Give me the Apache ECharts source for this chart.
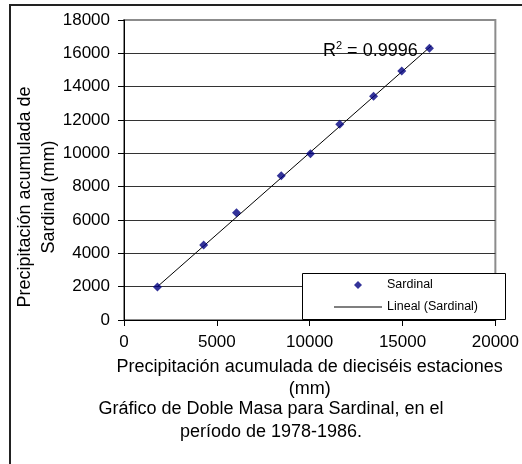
<!DOCTYPE html>
<html>
<head>
<meta charset="utf-8">
<script src="https://cdn.jsdelivr.net/npm/echarts@6/dist/echarts.min.js"></script>
<style>html,body{margin:0;padding:0;background:#fff}#c{width:522px;height:464px}</style>
</head>
<body>
<div id="c"></div>
<script>
// Data
const xValues = [1800, 4290, 6060, 8470, 10040, 11620, 13440, 14960, 16450];
const yValues = [1980, 4500, 6440, 8660, 9980, 11740, 13420, 14940, 16300];
const trendX = [1800, 16550];
const trendY = [2000, 16450];
const xTicks = [0, 5000, 10000, 15000, 20000];
const yTicks = [0, 2000, 4000, 6000, 8000, 10000, 12000, 14000, 16000, 18000];
const seriesName = 'Sardinal';
const trendName = 'Lineal (Sardinal)';
const r2Text = '0.9996';
const xTitle = 'Precipitación acumulada de dieciséis estaciones\n(mm)';
const yTitle = 'Precipitación acumulada de\nSardinal (mm)';
const caption = 'Gráfico de Doble Masa para Sardinal, en el\nperíodo de 1978-1986.';

const FONT = '"Liberation Sans", Arial, sans-serif';
const chart = echarts.init(document.getElementById('c'));
const splitColors = yTicks.map((v, i) => i === yTicks.length - 1 ? '#8c8c8c' : '#333333');

chart.setOption({
  animation: false,
  textStyle: { fontFamily: FONT, color: '#000' },
  grid: { left: 124, right: 25, top: 20, bottom: 144, show: true, borderColor: '#8c8c8c', borderWidth: 2, backgroundColor: 'transparent' },
  xAxis: {
    type: 'value', min: xTicks[0], max: xTicks[xTicks.length - 1], interval: 5000,
    axisLine: { show: true, onZero: false, lineStyle: { color: '#000', width: 1 } },
    axisTick: { show: true, inside: false, length: 6, lineStyle: { color: '#000' } },
    splitLine: { show: false },
    axisLabel: { fontSize: 17, color: '#000', margin: 14, fontFamily: FONT, formatter: v => String(v) },
    name: xTitle, nameLocation: 'middle', nameGap: 31,
    nameTextStyle: { fontSize: 18, color: '#000', lineHeight: 22, fontFamily: FONT }
  },
  yAxis: {
    type: 'value', min: yTicks[0], max: yTicks[yTicks.length - 1], interval: 2000,
    axisLine: { show: true, onZero: false, lineStyle: { color: '#000', width: 1 } },
    axisTick: { show: true, inside: false, length: 6, lineStyle: { color: '#000' } },
    splitLine: { show: true, lineStyle: { color: splitColors, width: 1 } },
    axisLabel: { fontSize: 17, color: '#000', margin: 14, fontFamily: FONT, formatter: v => String(v) }
  },
  legend: {
    orient: 'vertical', left: 302, top: 278, padding: [0, 0, 0, 32],
    itemWidth: 48, itemHeight: 8, itemGap: 8, itemTextGap: 1, z: 20,
    textStyle: { fontSize: 12.5, color: '#000', lineHeight: 14, fontFamily: FONT },
    data: [
      { name: seriesName, icon: 'path://M4,0 L8,4 L4,8 L0,4 Z' },
      { name: trendName, icon: 'path://M0,0 L48,0 L48,1 L0,1 Z', itemStyle: { color: '#000' } }
    ]
  },
  series: [
    {
      name: trendName, type: 'line', symbol: 'none', z: 3,
      data: trendX.map((x, i) => [x, trendY[i]]),
      lineStyle: { color: '#000', width: 1 },
      itemStyle: { color: '#000' }
    },
    {
      name: seriesName, type: 'scatter', symbol: 'diamond', symbolSize: 9, z: 4, symbolKeepAspect: true,
      data: xValues.map((x, i) => [x, yValues[i]]),
      itemStyle: { color: '#000080' }
    }
  ],
  graphic: [
    { type: 'rect', z: 0, silent: true, shape: { x: 10, y: 5, width: 700, height: 600 },
      style: { fill: 'none', stroke: '#222', lineWidth: 2 } },
    { type: 'rect', z: 19, silent: true, shape: { x: 302.5, y: 273.5, width: 203, height: 46 },
      style: { fill: '#fff', stroke: '#000', lineWidth: 1 } },
    { type: 'text', z: 10, x: 37, y: 197, rotation: Math.PI / 2,
      style: { text: yTitle, font: '18px ' + FONT, fill: '#000', align: 'center', verticalAlign: 'middle', lineHeight: 24 } },
    { type: 'text', z: 10, x: 271, y: 421,
      style: { text: caption, font: '18px ' + FONT, fill: '#000', align: 'center', verticalAlign: 'middle', lineHeight: 23 } },
    { type: 'text', z: 10, x: 323, y: 50,
      style: { text: '{b|R}{s|2}{b| = ' + r2Text + '}', fill: '#000', align: 'left', verticalAlign: 'middle',
        rich: { b: { fontSize: 18, fontFamily: FONT, lineHeight: 20, verticalAlign: 'bottom' },
                s: { fontSize: 11, fontFamily: FONT, lineHeight: 20, verticalAlign: 'top' } } } }
  ]
});
</script>
</body>
</html>
